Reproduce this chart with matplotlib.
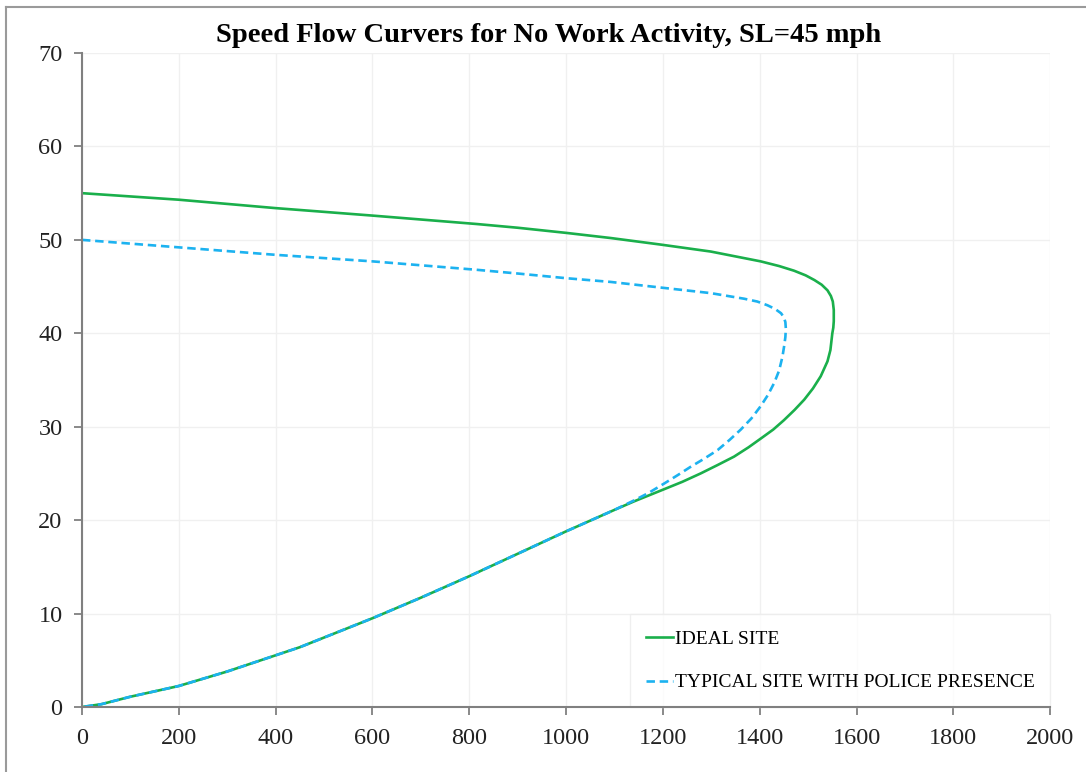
import matplotlib.pyplot as plt
from matplotlib.lines import Line2D

# Speed-flow curves: flow (veh/h/ln) against speed (mph), traced from the top
# branch (free flow) round the nose and back down the congested branch.
ideal_flow = [0, 200, 400, 600, 815, 900, 1000, 1092, 1195, 1299, 1402, 1440,
              1471, 1495, 1513, 1528, 1540, 1547, 1551, 1553, 1553, 1552,
              1550, 1546, 1540, 1526, 1510, 1492, 1472, 1450, 1428, 1404,
              1377, 1347, 1313, 1278, 1240, 1202, 1140, 1100, 1000, 900, 800,
              700, 600, 450, 300, 200, 100, 40, 0]
ideal_speed = [55.0, 54.3, 53.4, 52.6, 51.7, 51.3, 50.75, 50.2, 49.5, 48.75, 47.7, 47.2,
               46.7, 46.2, 45.7, 45.2, 44.6, 44.0, 43.4, 42.5, 41.3, 40.6,
               40.0, 38.2, 37.0, 35.4, 34.1, 32.9, 31.8, 30.7, 29.7, 28.8,
               27.8, 26.8, 25.9, 25.0, 24.1, 23.3, 22.0, 21.1, 18.8, 16.4, 14.0,
               11.7, 9.5, 6.4, 3.8, 2.25, 1.1, 0.3, 0.0]

police_flow = [0, 200, 400, 600, 815, 900, 1000, 1092, 1195, 1299, 1368, 1395,
               1416, 1432, 1444, 1450, 1453, 1454, 1453, 1451, 1447, 1440,
               1430, 1417, 1402, 1383, 1361, 1338, 1313, 1286, 1257, 1230,
               1202, 1170, 1140, 1100, 1000, 900, 800, 700, 600, 450, 300,
               200, 100, 40, 0]
police_speed = [50.0, 49.2, 48.4, 47.7, 46.8, 46.4, 45.9, 45.5, 44.9, 44.3, 43.7, 43.4,
                43.0, 42.6, 42.15, 41.7, 41.2, 40.5, 39.6, 38.8, 37.5, 36.0,
                34.7, 33.4, 32.2, 30.9, 29.7, 28.6, 27.5, 26.6, 25.7, 24.8,
                23.9, 22.9, 22.1, 21.1, 18.8, 16.4, 14.0, 11.7, 9.5, 6.4, 3.8,
                2.25, 1.1, 0.3, 0.0]

x_ticks = list(range(0, 2001, 200))
y_ticks = list(range(0, 71, 10))

plt.rcParams['font.family'] = ['Liberation Serif', 'DejaVu Serif']

fig = plt.figure(figsize=(10.86, 7.72), dpi=100)
ax = fig.add_axes([0.0755, 0.0842, 0.8915, 0.8471])

ax.plot(ideal_flow, ideal_speed, color='#1aaf4b', lw=1.9, label='IDEAL SITE',
        solid_joinstyle='round', zorder=3)
ax.plot(police_flow, police_speed, color='#1cb2f0', lw=1.9, ls=(0, (3.2, 1.8)),
        label='TYPICAL SITE WITH POLICE PRESENCE', zorder=4)

ax.set_xlim(0, 2000)
ax.set_ylim(0, 70)
ax.set_xticks(x_ticks)
ax.set_yticks(y_ticks)
ax.tick_params(labelsize=17.5, colors='#808080', labelcolor='#222222',
               length=6, width=1.3)
ax.tick_params(axis='x', pad=9)
ax.tick_params(axis='y', pad=8)
ax.grid(True, color='#f0f0f0', lw=1.0)
ax.set_axisbelow(True)
for side in ('top', 'right'):
    ax.spines[side].set_visible(False)
for side in ('left', 'bottom'):
    ax.spines[side].set_color('#808080')
    ax.spines[side].set_linewidth(1.5)
    ax.spines[side].set_zorder(6)

fig.text(0.505, 1 - 36 / 772, 'Speed Flow Curvers for No Work Activity, SL=45 mph',
         fontsize=20.5, fontweight='bold', ha='center', va='center')

leg = ax.legend(loc='lower right', bbox_to_anchor=(1.0, 0.0), borderaxespad=0,
                fontsize=14, handlelength=1.4, handletextpad=0.1,
                labelspacing=1.35, borderpad=0.8, fancybox=False, frameon=True)
leg.get_frame().set_edgecolor('#ececec')
leg.get_frame().set_linewidth(1.0)

# outer frame edges
fig.add_artist(Line2D([6 / 1086, 1], [1 - 7 / 772, 1 - 7 / 772],
                      transform=fig.transFigure, color='#9a9a9a', lw=1.5))
fig.add_artist(Line2D([6 / 1086, 6 / 1086], [0, 1 - 7 / 772],
                      transform=fig.transFigure, color='#9a9a9a', lw=1.5))

fig.savefig('out.png', dpi=100)
